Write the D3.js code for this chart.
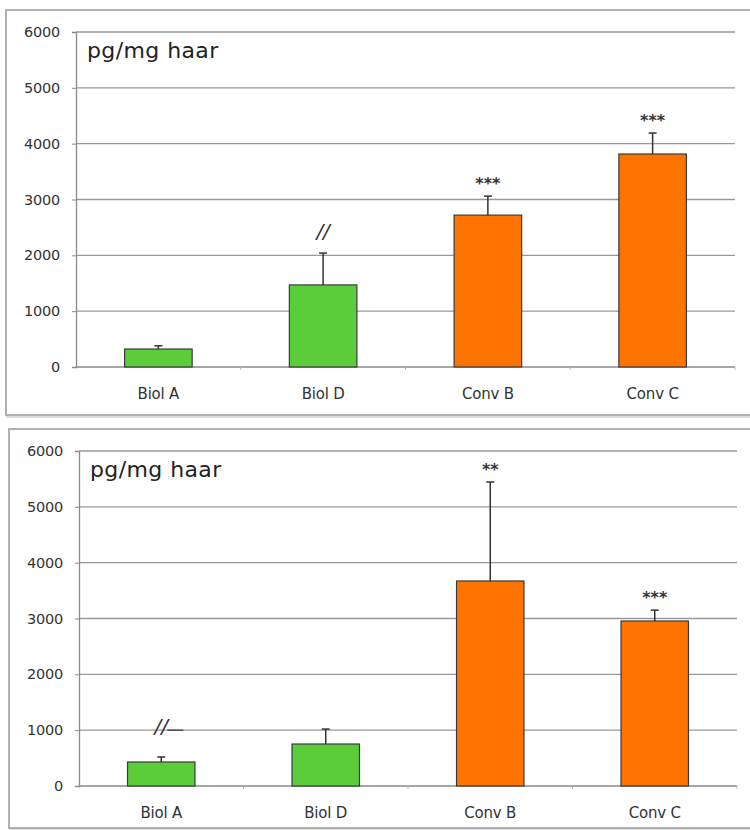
<!DOCTYPE html>
<html>
<head>
<meta charset="utf-8">
<script src="https://cdn.jsdelivr.net/npm/d3@7"></script>
<style>
  html, body { margin: 0; padding: 0; background: #fff; }
  svg { display: block; }
</style>
</head>
<body>
<svg id="chart" width="750" height="830"></svg>
<script>
// Categories and tick values shared by both panels
const categories = ["Biol A", "Biol D", "Conv B", "Conv C"];
const yTicks = [0, 1000, 2000, 3000, 4000, 5000, 6000];
const unitLabel = "pg/mg haar";

// Upper panel: means, error (SD) and significance marks
const topValues = [322, 1470, 2720, 3815];
const topErrors = [58, 570, 340, 375];
const topMarks = ["", "//", "***", "***"];

// Lower panel
const bottomValues = [430, 752, 3672, 2955];
const bottomErrors = [90, 268, 1773, 195];
const bottomMarks = ["//", "", "**", "***"];

const barColors = ["#5bcc3a", "#5bcc3a", "#ff7300", "#ff7300"];
const FONT = "'DejaVu Sans', 'Open Sans', sans-serif";

const svg = d3.select("#chart");

function drawPanel(cfg) {
  const g = svg.append("g");

  // panel frame with a soft lower shadow
  g.append("rect")
    .attr("x", cfg.frame.x + 1).attr("y", cfg.frame.y + 2)
    .attr("width", cfg.frame.w).attr("height", cfg.frame.h)
    .attr("fill", "none").attr("stroke", "#dcdcdc").attr("stroke-width", 2);
  g.append("rect")
    .attr("x", cfg.frame.x).attr("y", cfg.frame.y)
    .attr("width", cfg.frame.w).attr("height", cfg.frame.h)
    .attr("fill", "#fff").attr("stroke", "#b0b0b0").attr("stroke-width", 2);

  const x = d3.scaleBand().domain(categories)
    .range([cfg.left, cfg.right]).paddingInner(0.59).paddingOuter(0.295);
  const y = d3.scaleLinear().domain([0, 6000]).range([cfg.bottom, cfg.top]);

  // horizontal gridlines
  g.append("g").selectAll("line").data(yTicks.filter(d => d > 0)).join("line")
    .attr("x1", cfg.left).attr("x2", cfg.right)
    .attr("y1", d => y(d)).attr("y2", d => y(d))
    .attr("stroke", "#999").attr("stroke-width", 1.3);

  // y axis
  const yAxis = g.append("g")
    .attr("transform", `translate(${cfg.left},0)`)
    .call(d3.axisLeft(y).tickValues(yTicks).tickSize(4).tickPadding(12).tickFormat(d3.format("d")));
  yAxis.select(".domain").attr("stroke", "#8a8a8a").attr("stroke-width", 1.3);
  yAxis.selectAll(".tick line").attr("stroke", "#8a8a8a");
  yAxis.selectAll("text")
    .attr("font-family", FONT)
    .attr("font-size", 14.5).attr("fill", "#333").attr("letter-spacing", -0.2);

  // x axis baseline with small separator ticks
  g.append("line")
    .attr("x1", cfg.left).attr("x2", cfg.right)
    .attr("y1", y(0)).attr("y2", y(0))
    .attr("stroke", "#8a8a8a").attr("stroke-width", 1.3);
  const step = x.step();
  g.append("g").selectAll("line").data(d3.range(1, categories.length + 1)).join("line")
    .attr("x1", i => cfg.left + i * step).attr("x2", i => cfg.left + i * step)
    .attr("y1", y(0)).attr("y2", y(0) + 3)
    .attr("stroke", "#bbb");

  // category labels
  g.append("g").selectAll("text").data(categories).join("text")
    .attr("x", d => x(d) + x.bandwidth() / 2)
    .attr("y", y(0) + 32)
    .attr("text-anchor", "middle")
    .attr("font-family", FONT)
    .attr("font-size", 15).attr("fill", "#333").attr("letter-spacing", -0.2)
    .text(d => d);

  // bars
  const data = categories.map((c, i) => ({
    cat: c, v: cfg.values[i], e: cfg.errors[i], m: cfg.marks[i], color: barColors[i]
  }));
  const cx = d => x(d.cat) + x.bandwidth() / 2;

  g.append("g").selectAll("rect").data(data).join("rect")
    .attr("x", d => x(d.cat))
    .attr("y", d => y(d.v))
    .attr("width", x.bandwidth())
    .attr("height", d => y(0) - y(d.v))
    .attr("fill", d => d.color)
    .attr("stroke", "#3a3a3a").attr("stroke-width", 1.2);

  // error bars (upper whisker only)
  const eb = g.append("g").selectAll("g").data(data).join("g");
  eb.append("line")
    .attr("x1", cx).attr("x2", cx)
    .attr("y1", d => y(d.v)).attr("y2", d => y(d.v + d.e))
    .attr("stroke", "#333").attr("stroke-width", 1.5);
  eb.append("line")
    .attr("x1", d => cx(d) - 4).attr("x2", d => cx(d) + 4)
    .attr("y1", d => y(d.v + d.e)).attr("y2", d => y(d.v + d.e))
    .attr("stroke", "#333").attr("stroke-width", 1.5);

  // significance stars
  g.append("g").selectAll("text").data(data.filter(d => d.m && d.m !== "//")).join("text")
    .attr("x", cx)
    .attr("y", d => y(d.v + d.e) - 7)
    .attr("text-anchor", "middle")
    .attr("font-family", FONT)
    .attr("font-weight", "bold")
    .attr("font-size", 16)
    .attr("fill", "#333")
    .text(d => d.m);

  // "//" marks
  const slashes = data.filter(d => d.m === "//");
  g.append("g").selectAll("text").data(slashes).join("text")
    .attr("x", cx)
    .attr("y", d => y(d.v + d.e) - cfg.slashGap)
    .attr("text-anchor", "middle")
    .attr("font-family", FONT)
    .attr("font-style", "italic")
    .attr("font-size", 20)
    .attr("fill", "#333")
    .text(d => d.m);
  if (cfg.slashDash) {
    g.append("g").selectAll("line").data(slashes).join("line")
      .attr("x1", d => cx(d) + 6).attr("x2", d => cx(d) + 22)
      .attr("y1", y(1000)).attr("y2", y(1000))
      .attr("stroke", "#444").attr("stroke-width", 1.4);
  }

  // unit label
  g.append("text")
    .attr("x", cfg.left + 11).attr("y", cfg.top + 26)
    .attr("font-family", FONT)
    .attr("font-size", 22).attr("fill", "#222").attr("letter-spacing", 0.4)
    .text(unitLabel);
}

drawPanel({
  frame: { x: 6, y: 10, w: 760, h: 405 },
  left: 76, right: 735, top: 32, bottom: 367,
  values: topValues, errors: topErrors, marks: topMarks,
  slashGap: 15, slashDash: false
});

drawPanel({
  frame: { x: 9, y: 429, w: 760, h: 399 },
  left: 79, right: 737, top: 451, bottom: 786,
  values: bottomValues, errors: bottomErrors, marks: bottomMarks,
  slashGap: 24, slashDash: true
});
</script>
</body>
</html>
